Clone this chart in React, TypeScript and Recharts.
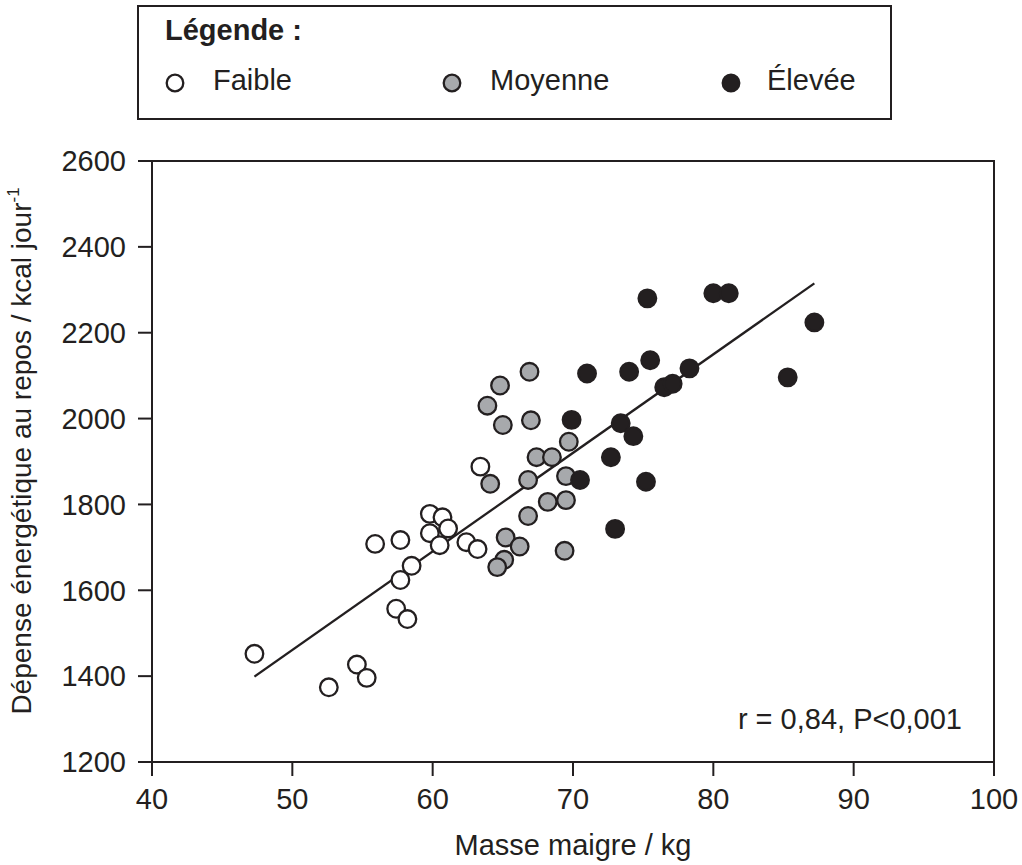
import React from 'react';
import { ScatterChart, Scatter, XAxis, YAxis, ReferenceLine, ReferenceArea } from 'recharts';

// Couleurs
const INK = '#231f20';
const GREY = '#a7a9ac';

// Masse maigre (kg) / dépense énergétique (kcal/jour) par groupe
const faibleX = [47.3, 52.6, 54.6, 55.3, 55.9, 57.7, 58.5, 57.7, 57.4, 58.2, 59.8, 60.7, 61.1, 59.8, 60.5, 62.4, 63.2, 63.4];
const faibleY = [1452, 1374, 1427, 1396, 1708, 1717, 1657, 1624, 1557, 1533, 1778, 1770, 1744, 1733, 1705, 1712, 1696, 1888];

const moyenneX = [66.9, 64.8, 63.9, 65.0, 67.0, 67.4, 68.5, 69.7, 64.1, 66.8, 69.5, 69.5, 68.2, 66.8, 65.2, 66.2, 65.1, 64.6, 69.4];
const moyenneY = [2109, 2077, 2030, 1985, 1996, 1910, 1910, 1946, 1848, 1857, 1866, 1810, 1806, 1773, 1723, 1702, 1671, 1654, 1692];

const eleveeX = [75.3, 80.0, 81.1, 87.2, 85.3, 71.0, 74.0, 75.5, 78.3, 76.5, 77.1, 69.9, 73.4, 74.3, 72.7, 70.5, 75.2, 73.0];
const eleveeY = [2280, 2292, 2292, 2224, 2096, 2105, 2109, 2136, 2117, 2073, 2081, 1997, 1989, 1959, 1910, 1857, 1853, 1743];

// Droite de régression (extrémités)
const fitX = [47.3, 87.2];
const fitY = [1399, 2315];

const xTicks = [40, 50, 60, 70, 80, 90, 100];
const yTicks = [1200, 1400, 1600, 1800, 2000, 2200, 2400, 2600];

const groups = [
  { name: 'Faible', xs: faibleX, ys: faibleY, fill: '#ffffff' },
  { name: 'Moyenne', xs: moyenneX, ys: moyenneY, fill: GREY },
  { name: 'Élevée', xs: eleveeX, ys: eleveeY, fill: INK },
];

const toPoints = (xs: number[], ys: number[]) => xs.map((x, i) => ({ x, y: ys[i] }));

const FONT = '"Liberation Sans", Arial, sans-serif';
const FS = 29;

const makeDot = (fill: string) => (props: any) => {
  const { cx, cy } = props;
  if (cx == null || cy == null) return <g />;
  return <circle cx={cx} cy={cy} r={8.8} fill={fill} stroke={INK} strokeWidth={2.3} />;
};

const YTitle = () => (
  <text
    transform="translate(31, 451) rotate(-90)"
    textAnchor="middle"
    fontSize={28}
    fill={INK}
    fontFamily={FONT}
  >
    Dépense énergétique au repos / kcal jour
    <tspan dy={-12} fontSize={17}>-1</tspan>
  </text>
);

// positions des entrées de légende (relatives au cadre)
const legendDotX = [36, 313, 592];
const legendTextX = [74, 351, 628];

export default function App() {
  return (
    <div style={{ position: 'absolute', left: 0, top: 0, width: 1022, height: 865, background: '#fff', fontFamily: FONT, color: INK }}>
      {/* Légende */}
      <div
        style={{
          position: 'absolute',
          left: 137,
          top: 5,
          width: 751,
          height: 111,
          border: `2px solid ${INK}`,
        }}
      >
        <div style={{ position: 'absolute', left: 26, top: 9, fontSize: FS, fontWeight: 'bold', lineHeight: 1, whiteSpace: 'nowrap' }}>
          Légende :
        </div>
        {groups.map((g, i) => (
          <React.Fragment key={g.name}>
            <svg width={22} height={22} style={{ position: 'absolute', left: legendDotX[i] - 11, top: 76 - 11 }}>
              <circle cx={11} cy={11} r={8.3} fill={g.fill} stroke={INK} strokeWidth={2.3} />
            </svg>
            <span style={{ position: 'absolute', left: legendTextX[i], top: 59, fontSize: FS, lineHeight: 1, whiteSpace: 'nowrap' }}>
              {g.name}
            </span>
          </React.Fragment>
        ))}
      </div>

      <div style={{ position: 'absolute', left: 0, top: 0 }}>
        <ScatterChart width={1022} height={865} margin={{ top: 161, right: 28, bottom: 43, left: 72 }}>
          <XAxis
            type="number"
            dataKey="x"
            domain={[40, 100]}
            ticks={xTicks}
            height={60}
            tickSize={14}
            tickMargin={12}
            axisLine={{ stroke: INK, strokeWidth: 2 }}
            tickLine={{ stroke: INK, strokeWidth: 2 }}
            tick={{ fill: INK, fontSize: FS, fontFamily: FONT }}
            allowDataOverflow
          />
          <YAxis
            type="number"
            dataKey="y"
            domain={[1200, 2600]}
            ticks={yTicks}
            width={80}
            tickSize={14}
            tickMargin={12}
            axisLine={{ stroke: INK, strokeWidth: 2 }}
            tickLine={{ stroke: INK, strokeWidth: 2 }}
            tick={{ fill: INK, fontSize: FS, fontFamily: FONT }}
            label={{ content: () => <YTitle /> }}
            allowDataOverflow
          />
          <ReferenceArea x1={40} x2={100} y1={1200} y2={2600} fill="none" fillOpacity={0} stroke={INK} strokeWidth={2} />
          {groups.map((g) => (
            <Scatter
              key={g.name}
              name={g.name}
              data={toPoints(g.xs, g.ys)}
              shape={makeDot(g.fill)}
              isAnimationActive={false}
            />
          ))}
          <ReferenceLine
            segment={[
              { x: fitX[0], y: fitY[0] },
              { x: fitX[1], y: fitY[1] },
            ]}
            stroke={INK}
            strokeWidth={2.3}
          />
        </ScatterChart>
      </div>

      {/* Titre de l'axe X */}
      <div style={{ position: 'absolute', left: 152, width: 842, top: 831, textAlign: 'center', fontSize: FS, lineHeight: 1 }}>
        Masse maigre / kg
      </div>

      {/* Annotation */}
      <div style={{ position: 'absolute', right: 60, top: 705, fontSize: FS, lineHeight: 1, whiteSpace: 'nowrap' }}>
        r = 0,84, P&lt;0,001
      </div>
    </div>
  );
}
